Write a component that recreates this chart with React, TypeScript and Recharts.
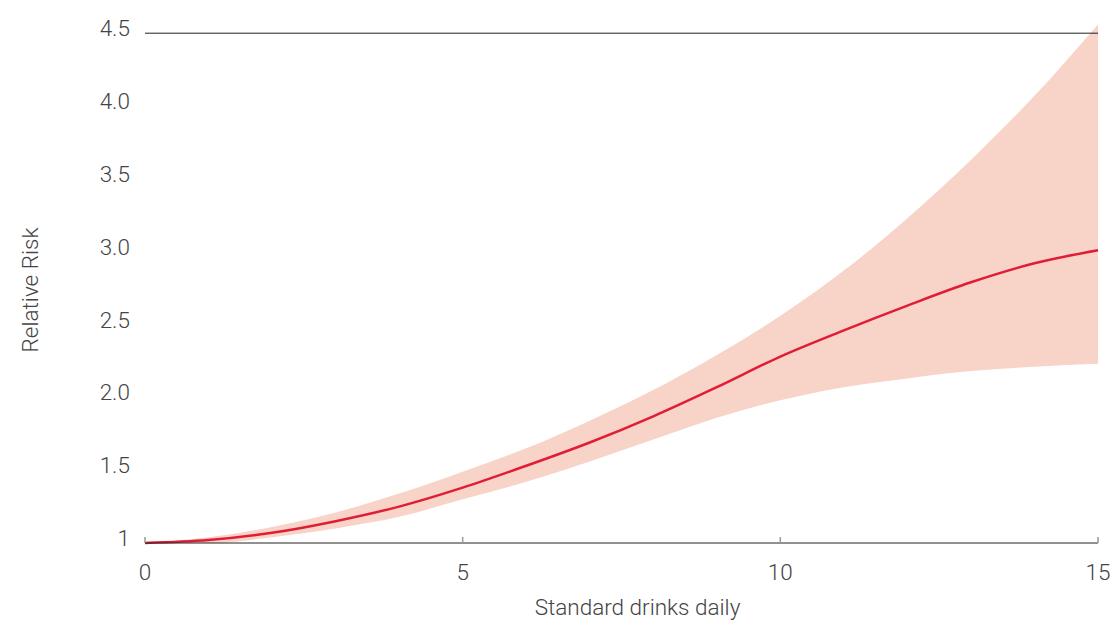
import { ComposedChart, Area, Line, XAxis, YAxis, ReferenceLine, Label } from 'recharts'

const drinks = [0, 1, 2, 3, 4, 5, 6, 7, 8, 9, 10, 11, 12, 13, 14, 15]
const riskMid = [1.0, 1.02, 1.07, 1.15, 1.25, 1.38, 1.53, 1.69, 1.87, 2.07, 2.28, 2.46, 2.63, 2.79, 2.92, 3.01]
const riskLow = [1.0, 1.0, 1.04, 1.1, 1.18, 1.3, 1.42, 1.56, 1.71, 1.86, 1.98, 2.07, 2.13, 2.18, 2.21, 2.23]
const riskHigh = [1.0, 1.04, 1.11, 1.21, 1.34, 1.49, 1.65, 1.84, 2.05, 2.29, 2.56, 2.87, 3.23, 3.63, 4.07, 4.56]
const yTicks = [1, 1.5, 2, 2.5, 3, 3.5, 4, 4.5]
const xTicks = [0, 5, 10, 15]

const data = drinks.map((d, i) => ({
  drinks: d,
  mid: riskMid[i],
  band: [riskLow[i], riskHigh[i]],
}))

const FONT = 'Roboto, "Liberation Sans", sans-serif'
const TEXT = '#444'
const SIZE = 22.5

const XTick = ({ x, y, payload }: any) => (
  <g>
    <line x1={x} y1={y - 6} x2={x} y2={y} stroke="#999" strokeWidth={1.5} />
    <text x={x} y={y + 37} textAnchor="middle" fill={TEXT} fontSize={SIZE} fontWeight={300} fontFamily={FONT}>
      {payload.value}
    </text>
  </g>
)

const YTick = ({ x, y, payload }: any) => (
  <text x={x} y={y + 3} textAnchor="end" fill={TEXT} fontSize={SIZE} fontWeight={300} fontFamily={FONT}>
    {payload.value === 1 ? '1' : payload.value.toFixed(1)}
  </text>
)

const YLabel = ({ viewBox }: any) => {
  const cx = viewBox.x + 38
  const cy = viewBox.y + viewBox.height / 2 + 7
  return (
    <text x={cx} y={cy} transform={`rotate(-90 ${cx} ${cy})`} textAnchor="middle" fill={TEXT} fontSize={SIZE} fontWeight={300} fontFamily={FONT}>
      Relative Risk
    </text>
  )
}

export default function App() {
  return (
    <div style={{ position: 'absolute', left: 0, top: 0, background: '#fff' }}>
      <ComposedChart width={1113} height={621} data={data} margin={{ top: 23, right: 15, bottom: 0, left: 0 }}>
        <XAxis
          type="number"
          dataKey="drinks"
          domain={[0, 15]}
          ticks={xTicks}
          tickSize={0}
          tickMargin={0}
          tickLine={false}
          tick={<XTick />}
          height={78}
          stroke="#222"
          interval={0}
        >
          <Label value="Standard drinks daily" position="insideBottom" offset={6} dx={16} fill={TEXT} fontSize={SIZE} fontWeight={300} fontFamily={FONT} />
        </XAxis>
        <YAxis
          type="number"
          domain={[1, 4.57]}
          ticks={yTicks}
          width={145}
          axisLine={false}
          tickLine={false}
          tickSize={0}
          tickMargin={15}
          tick={<YTick />}
          interval={0}
          label={<YLabel />}
        />
        <ReferenceLine y={4.5} stroke="#222" strokeWidth={1} />
        <Area type="monotone" dataKey="band" stroke="none" fill="#f7d3c8" fillOpacity={1} isAnimationActive={false} />
        <Line type="monotone" dataKey="mid" stroke="#e11d36" strokeWidth={2.5} dot={false} isAnimationActive={false} />
      </ComposedChart>
    </div>
  )
}
